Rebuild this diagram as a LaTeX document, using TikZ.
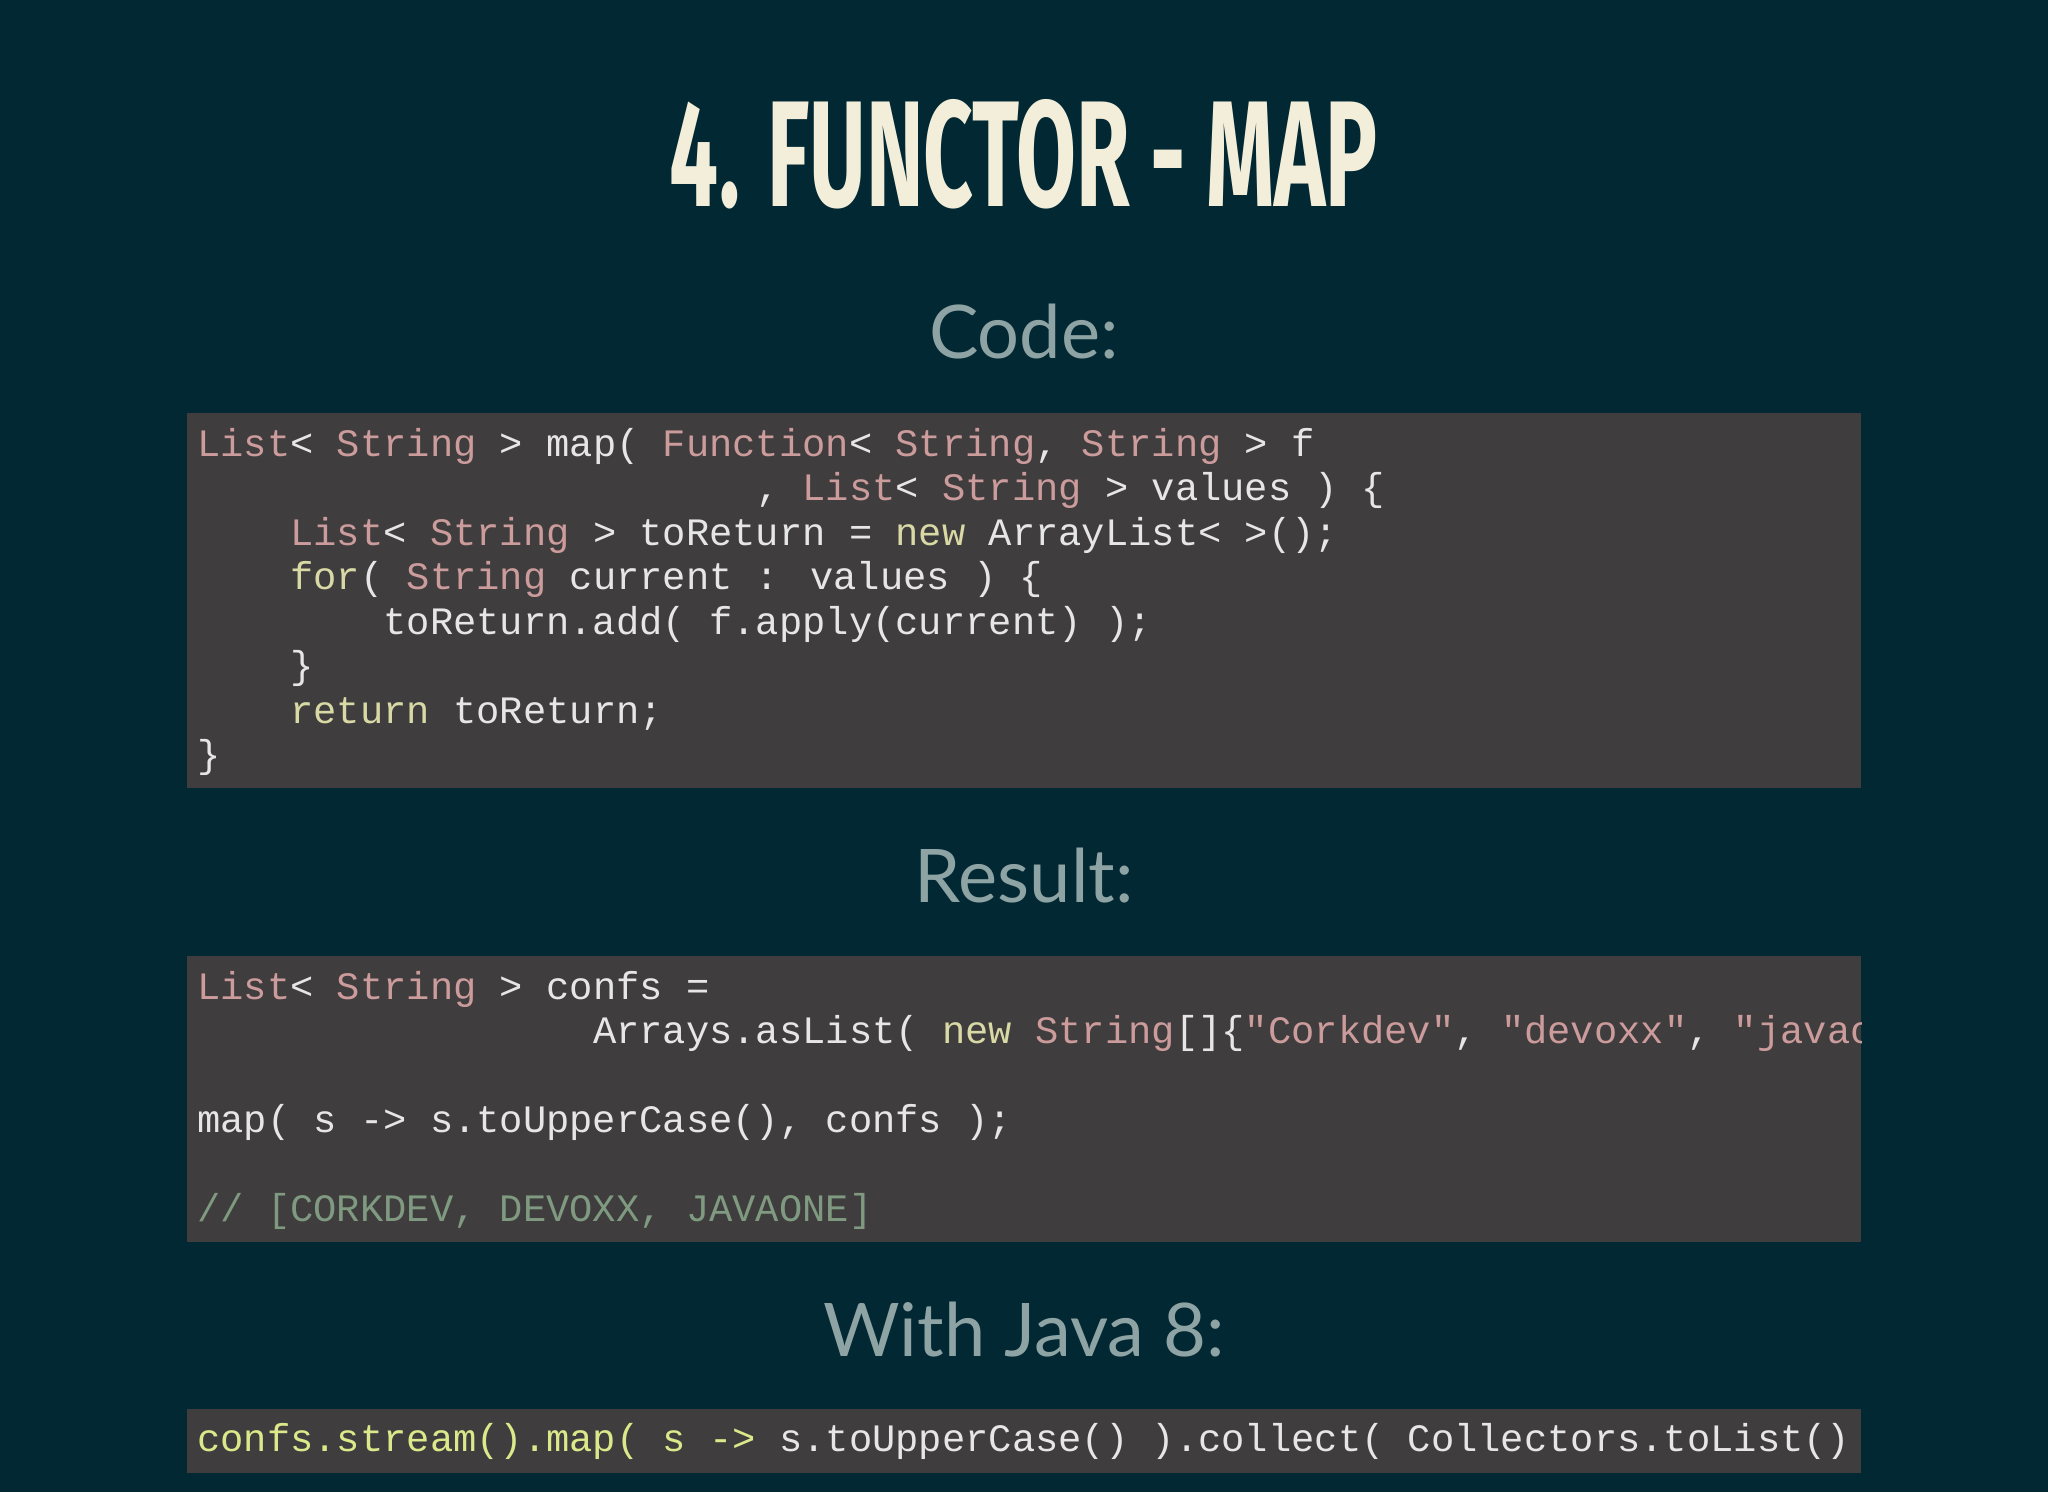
\documentclass[tikz,border=0pt]{standalone}
\usepackage{fontspec}
\setmainfont{Lato}
\newfontfamily\monof{Liberation Mono}
\newfontfamily\titlef{Fira Sans}
\definecolor{bgc}{HTML}{022833}
\definecolor{boxc}{HTML}{3F3D3E}
\definecolor{pk}{HTML}{CC9B9B}
\definecolor{yw}{HTML}{D9D9A6}
\definecolor{wt}{HTML}{E6E6E6}
\definecolor{cm}{HTML}{7F9A80}
\definecolor{hd}{HTML}{8EA3A3}
\definecolor{tt}{HTML}{F2EEDA}
\definecolor{lg}{HTML}{DDE88A}
\newcommand{\pkt}[1]{\textcolor{pk}{#1}}
\newcommand{\ywt}[1]{\textcolor{yw}{#1}}
\newcommand{\lgt}[1]{\textcolor{lg}{#1}}
\tikzset{codeline/.style={anchor=base west,inner sep=0pt,text=wt,font=\monof\fontsize{38.8}{44}\selectfont},
 codebox/.style={fill=boxc,draw=none},
 heading/.style={text=hd,font=\fontsize{74}{80}\selectfont,inner sep=0pt}}
\begin{document}
\begin{tikzpicture}[x=1pt,y=-1pt]
\fill[bgc] (0,0) rectangle (2048,1492);
\useasboundingbox (0,0) rectangle (2048,1492);
\node[text=tt,inner sep=0pt] (title) at (1024,154) {\resizebox{708pt}{107pt}{\titlef\bfseries 4. FUNCTOR - MAP}};
\node[heading] (h1) at (1024,332) {Code:};
\node[heading] (h2) at (1024,876) {Result:};
\node[heading] (h3) at (1024,1330) {With Java 8:};
% box 1
\fill[codebox] (187,413) rectangle (1861,788);
\def\lx{197}
\node[codeline] (c1) at (\lx,456) {\pkt{List}< \pkt{String} > map( \pkt{Function}< \pkt{String}, \pkt{String} > f};
\node[codeline] (c2) at (\lx,500) {\phantom{xxxxxxxxxxxxxxxxxxxxxxxx}, \pkt{List}< \pkt{String} > values ) \{};
\node[codeline] (c3) at (\lx,545) {\phantom{xxxx}\pkt{List}< \pkt{String} > toReturn = \ywt{new} ArrayList< >();};
\node[codeline] (c4) at (\lx,589) {\phantom{xxxx}\ywt{for}( \pkt{String} current : values ) \{};
\node[codeline] (c5) at (\lx,634) {\phantom{xxxxxxxx}toReturn.add( f.apply(current) );};
\node[codeline] (c6) at (\lx,678) {\phantom{xxxx}\}};
\node[codeline] (c7) at (\lx,723) {\phantom{xxxx}\ywt{return} toReturn;};
\node[codeline] (c8) at (\lx,767) {\}};
% box 2
\fill[codebox] (187,956) rectangle (1861,1242);
\begin{scope}
\clip (187,956) rectangle (1861,1242);
\node[codeline] (r1) at (\lx,999) {\pkt{List}< \pkt{String} > confs =};
\node[codeline] (r2) at (\lx,1043) {\phantom{xxxxxxxxxxxxxxxxx}Arrays.asList( \ywt{new} \pkt{String}[]\{\pkt{"Corkdev"}, \pkt{"devoxx"}, \pkt{"javaone"}\});};
\node[codeline] (r3) at (\lx,1132) {map( s -> s.toUpperCase(), confs );};
\node[codeline,text=cm] (r4) at (\lx,1221) {// [CORKDEV, DEVOXX, JAVAONE]};
\end{scope}
% box 3
\fill[codebox] (187,1409) rectangle (1861,1473);
\node[codeline] (j1) at (\lx,1451) {\lgt{confs.stream().map( s ->} s.toUpperCase() ).collect( Collectors.toList()};
\end{tikzpicture}
\end{document}
